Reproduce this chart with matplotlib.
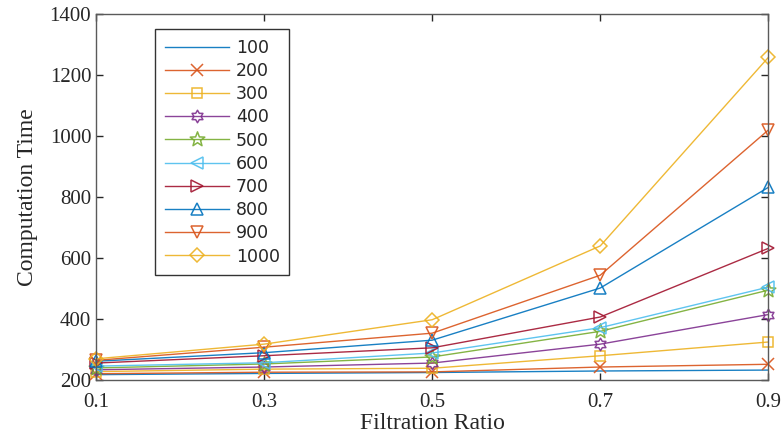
import numpy as np
import matplotlib.pyplot as plt
from matplotlib.path import Path

# Data
ratios = [0.1, 0.3, 0.5, 0.7, 0.9]
series_names = ['100', '200', '300', '400', '500', '600', '700', '800', '900', '1000']
t100 = [218, 222, 225, 230, 233]
t200 = [221, 226, 227, 243, 252]
t300 = [228, 236, 239, 280, 325]
t400 = [234, 243, 256, 318, 415]
t500 = [240, 253, 276, 360, 495]
t600 = [246, 257, 289, 372, 505]
t700 = [256, 280, 306, 407, 632]
t800 = [262, 290, 331, 502, 832]
t900 = [265, 308, 354, 544, 1020]
t1000 = [270, 318, 398, 640, 1258]
all_times = [t100, t200, t300, t400, t500, t600, t700, t800, t900, t1000]

# MATLAB default colour order
colours = ['#0072BD', '#D95319', '#EDB120', '#7E2F8E', '#77AC30',
           '#4DBEEE', '#A2142F', '#0072BD', '#D95319', '#EDB120']


# hexagram / pentagram outline markers
def star_marker(n, inner):
    ang = np.pi / 2 + np.arange(2 * n) * np.pi / n
    r = np.where(np.arange(2 * n) % 2 == 0, 1.0, inner)
    verts = np.column_stack([r * np.cos(ang), r * np.sin(ang)])
    verts = np.vstack([verts, verts[:1]])
    return Path(verts, closed=True)


markers = [None, 'x', 's', star_marker(6, 0.58), star_marker(5, 0.42),
           '<', '>', '^', 'v', 'D']
sizes = [0, 8, 7, 9, 11, 9, 9, 9, 9, 7]

fig, ax = plt.subplots(figsize=(7.84, 4.41), dpi=100)
fig.subplots_adjust(left=0.1225, right=0.98, top=0.968, bottom=0.138)

for i in range(len(series_names)):
    ax.plot(ratios, all_times[i], color=colours[i], marker=markers[i],
            markersize=sizes[i], markerfacecolor='none', markeredgewidth=1.1,
            linewidth=1.0, alpha=0.9, label=series_names[i], clip_on=False)

ax.set_xlim(0.1, 0.9)
ax.set_ylim(200, 1400)
ax.set_xticks(ratios)
ax.set_xticklabels(['0.1', '0.3', '0.5', '0.7', '0.9'])
ax.set_yticks([200, 400, 600, 800, 1000, 1200, 1400])

serif = 'Liberation Serif'
for lab in ax.get_xticklabels() + ax.get_yticklabels():
    lab.set_family(serif)
    lab.set_fontsize(15)
    lab.set_color('#262626')
ax.tick_params(axis='x', pad=9)
ax.tick_params(direction='in', top=True, right=True, length=5, width=1, color='#262626')
for s in ax.spines.values():
    s.set_color('#5a5a5a')
    s.set_linewidth(1.0)

ax.set_xlabel('Filtration Ratio', family=serif, fontsize=17, labelpad=1, color='#262626')
ax.set_ylabel('Computation Time', family=serif, fontsize=17, labelpad=8, color='#262626')

leg = ax.legend(loc='upper left', bbox_to_anchor=(0.088, 0.959), borderaxespad=0,
                fancybox=False, edgecolor='#333333', framealpha=1, fontsize=12.5,
                handlelength=3.7, labelspacing=0.3, borderpad=0.55, handletextpad=0.4)
leg.get_frame().set_linewidth(1.0)
for txt in leg.get_texts():
    txt.set_color('#262626')

fig.savefig('out.png', dpi=100)
